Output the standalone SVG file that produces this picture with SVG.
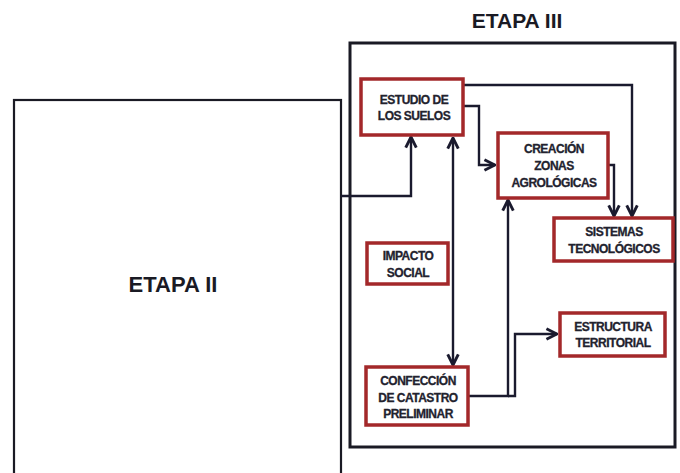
<svg xmlns="http://www.w3.org/2000/svg" width="680" height="473" viewBox="0 0 680 473">
<defs>
<style>
.frame{fill:#fff;stroke:#1a1a24;}
.node{fill:#fff;stroke:#a3282a;stroke-width:3.5;}
.lbl{font-family:"Liberation Sans",Arial,sans-serif;font-weight:bold;font-size:12px;fill:#22222e;stroke:#22222e;stroke-width:0.3;text-anchor:middle;letter-spacing:-0.5px;}
.big{font-family:"Liberation Sans",Arial,sans-serif;font-weight:bold;fill:#1a1a24;text-anchor:middle;}
.con{fill:none;stroke:#1a1a2e;stroke-width:2.4;}
</style>
<marker id="ah" viewBox="0 0 10 10" refX="9" refY="5" markerWidth="5.5" markerHeight="5.5" orient="auto-start-reverse" markerUnits="strokeWidth">
<path d="M1,1 L9,5 L1,9" fill="none" stroke="#1a1a2e" stroke-width="2.2"/>
</marker>
</defs>
<rect width="680" height="473" fill="#fff"/>
<g id="etapa2">
<rect class="frame" x="14" y="100" width="327" height="380" stroke-width="2.2"/>
<text class="big" x="173" y="292" font-size="22">ETAPA II</text>
</g>
<g id="etapa3">
<rect class="frame" x="350" y="43" width="325" height="404" stroke-width="3"/>
<text class="big" x="517" y="28" font-size="21">ETAPA III</text>
</g>
<g id="connectors">
<path class="con" d="M341,196 H411 V137" marker-end="url(#ah)"/>
<path class="con" d="M453,138 V365" marker-start="url(#ah)" marker-end="url(#ah)"/>
<path class="con" d="M463,106 H479 V165 H495" marker-end="url(#ah)"/>
<path class="con" d="M463,85 H632 V216" marker-end="url(#ah)"/>
<path class="con" d="M608,165 H614 V216" marker-end="url(#ah)"/>
<path class="con" d="M468,396 H508 V200" marker-end="url(#ah)"/>
<path class="con" d="M508,396 H515 V334 H557" marker-end="url(#ah)"/>
</g>
<g id="estudio">
<rect class="node" x="361" y="79" width="102" height="56"/>
<text class="lbl" x="414" y="104">ESTUDIO DE</text>
<text class="lbl" x="414" y="120">LOS SUELOS</text>
</g>
<g id="creacion">
<rect class="node" x="498" y="133" width="110" height="65"/>
<text class="lbl" x="554" y="153">CREACIÓN</text>
<text class="lbl" x="554" y="170">ZONAS</text>
<text class="lbl" x="554" y="187">AGROLÓGICAS</text>
</g>
<g id="sistemas">
<rect class="node" x="554" y="218" width="119" height="43"/>
<text class="lbl" x="614" y="236">SISTEMAS</text>
<text class="lbl" x="614" y="253">TECNOLÓGICOS</text>
</g>
<g id="impacto">
<rect class="node" x="367" y="243" width="81" height="41"/>
<text class="lbl" x="408" y="260">IMPACTO</text>
<text class="lbl" x="408" y="277">SOCIAL</text>
</g>
<g id="estructura">
<rect class="node" x="560" y="313" width="105" height="43"/>
<text class="lbl" x="613" y="331">ESTRUCTURA</text>
<text class="lbl" x="613" y="347">TERRITORIAL</text>
</g>
<g id="confeccion">
<rect class="node" x="366" y="367" width="102" height="58"/>
<text class="lbl" x="418" y="385">CONFECCIÓN</text>
<text class="lbl" x="418" y="402">DE CATASTRO</text>
<text class="lbl" x="418" y="418">PRELIMINAR</text>
</g>
</svg>
